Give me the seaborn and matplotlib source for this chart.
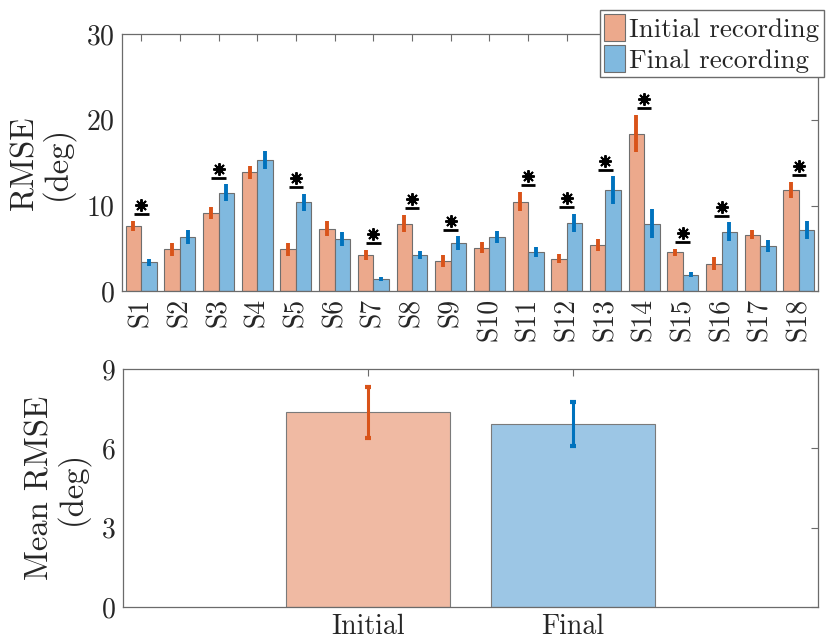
import numpy as np
import pandas as pd
import matplotlib
matplotlib.use("Agg")
import matplotlib.pyplot as plt
from matplotlib.patches import Patch
import seaborn as sns

# ---- data -------------------------------------------------------------
subjects = [f"S{i}" for i in range(1, 19)]
initial_rmse = [7.62, 4.88, 9.10, 13.87, 4.88, 7.30, 4.22, 7.89, 3.52,
                5.10, 10.47, 3.81, 5.45, 18.40, 4.55, 3.23, 6.61, 11.79]
initial_err = [0.6, 0.8, 0.7, 0.75, 0.8, 0.9, 0.6, 1.0, 0.7,
               0.6, 1.1, 0.55, 0.7, 2.2, 0.4, 0.8, 0.55, 0.95]
final_rmse = [3.40, 6.33, 11.52, 15.31, 10.39, 6.09, 1.41, 4.22, 5.59,
              6.38, 4.59, 8.02, 11.79, 7.90, 1.95, 6.93, 5.33, 7.12]
final_err = [0.4, 0.8, 0.95, 1.0, 1.0, 0.8, 0.25, 0.5, 0.8,
             0.7, 0.6, 1.05, 1.6, 1.7, 0.3, 1.1, 0.7, 1.05]
significant = [True, False, True, False, True, False, True, True, True,
               False, True, True, True, True, True, True, False, True]

conditions = ["Initial", "Final"]
mean_rmse = [7.36, 6.93]
mean_err = [0.96, 0.83]

legend_labels = ["Initial recording", "Final recording"]

# ---- style ------------------------------------------------------------
sns.set_style("white")
plt.rcParams["font.family"] = "serif"
plt.rcParams["font.serif"] = ["cmr10", "DejaVu Serif"]
plt.rcParams["axes.formatter.use_mathtext"] = True
plt.rcParams["mathtext.fontset"] = "cm"

axis_col = "#6b6b6b"
text_col = "#262626"
red_line, blue_line = "#D95319", "#0072BD"
red_face_top, blue_face_top = "#ECA98C", "#80B9DF"
red_face_bot, blue_face_bot = "#F0BAA3", "#9CC6E5"

fig = plt.figure(figsize=(8.29, 6.43), dpi=100)
ax1 = fig.add_axes([0.147, 0.547, 0.840, 0.400])
ax2 = fig.add_axes([0.148, 0.056, 0.839, 0.370])

# ---- per-subject RMSE --------------------------------------------------
df = pd.DataFrame({
    "subject": subjects * 2,
    "recording": ["Initial"] * len(subjects) + ["Final"] * len(subjects),
    "rmse": initial_rmse + final_rmse,
})
sns.barplot(data=df, x="subject", y="rmse", hue="recording",
            hue_order=conditions, order=subjects,
            palette={"Initial": red_face_top, "Final": blue_face_top},
            errorbar=None, width=0.8, edgecolor="#6e6e6e", linewidth=0.8,
            saturation=1, legend=False, ax=ax1)

bar_x = {}
for cont, vals, errs, col, name in zip(
        ax1.containers, [initial_rmse, final_rmse], [initial_err, final_err],
        [red_line, blue_line], conditions):
    xs = [p.get_x() + p.get_width() / 2 for p in cont.patches]
    bar_x[name] = xs
    ax1.errorbar(xs, vals, yerr=errs, fmt="none", ecolor=col,
                 elinewidth=2.8, capsize=0, zorder=4)

# significance markers above each significant subject
for i, sig in enumerate(significant):
    if not sig:
        continue
    top = max(initial_rmse[i] + initial_err[i], final_rmse[i] + final_err[i])
    xc = (bar_x["Initial"][i] + bar_x["Final"][i]) / 2
    ybar = top + 0.8
    ax1.plot([xc - 0.19, xc + 0.19], [ybar, ybar], color="black", lw=2.0,
             solid_capstyle="butt", zorder=5)
    ax1.plot([xc], [ybar + 1.05], marker=(8, 2, 0), markersize=9,
             markeredgewidth=1.4, color="black", zorder=5)

ax1.set_xlim(-0.5, len(subjects) - 0.5)
ax1.set_ylim(0, 30)
ax1.set_yticks([0, 10, 20, 30])
ax1.set_xlabel("")
ax1.set_ylabel("RMSE\n(deg)", fontsize=23.5, color=text_col, labelpad=9,
               linespacing=1.0)
ax1.tick_params(axis="x", labelrotation=90)

# ---- mean RMSE ----------------------------------------------------------
mdf = pd.DataFrame({"condition": conditions, "rmse": mean_rmse})
sns.barplot(data=mdf, x="condition", y="rmse", hue="condition",
            order=conditions, hue_order=conditions,
            palette={"Initial": red_face_bot, "Final": blue_face_bot},
            errorbar=None, width=0.8, edgecolor="#7a7a7a", linewidth=0.8,
            saturation=1, legend=False, ax=ax2)
for cont, v, e, col in zip(ax2.containers, mean_rmse, mean_err,
                           [red_line, blue_line]):
    p = cont.patches[0]
    ax2.errorbar([p.get_x() + p.get_width() / 2], [v], yerr=[e], fmt="none",
                 ecolor=col, elinewidth=2.2, capsize=2.5, capthick=3,
                 zorder=4)

ax2.set_xlim(-1.2, 2.2)
ax2.set_ylim(0, 9)
ax2.set_yticks([0, 3, 6, 9])
ax2.set_xlabel("")
ax2.set_ylabel("Mean RMSE\n(deg)", fontsize=23.5, color=text_col, labelpad=9,
               linespacing=1.0)

for ax in (ax1, ax2):
    for s in ax.spines.values():
        s.set_visible(True)
        s.set_color(axis_col)
        s.set_linewidth(0.9)
    ax.tick_params(direction="in", length=5, width=0.8, color=axis_col,
                   top=True, right=True, labelsize=20, labelcolor=text_col,
                   pad=5)

# ---- legend -----------------------------------------------------------
handles = [Patch(facecolor=red_face_top, edgecolor="#6e6e6e", lw=0.8),
           Patch(facecolor=blue_face_top, edgecolor="#6e6e6e", lw=0.8)]
fig.legend(handles, legend_labels, loc="upper left",
           bbox_to_anchor=(0.724, 0.984), fontsize=19.5, frameon=True,
           fancybox=False, edgecolor=axis_col, framealpha=1,
           borderpad=0.15, borderaxespad=0, handlelength=0.78,
           handleheight=1.15, handletextpad=0.15, labelspacing=0.12)

fig.savefig("out.png", dpi=100)
